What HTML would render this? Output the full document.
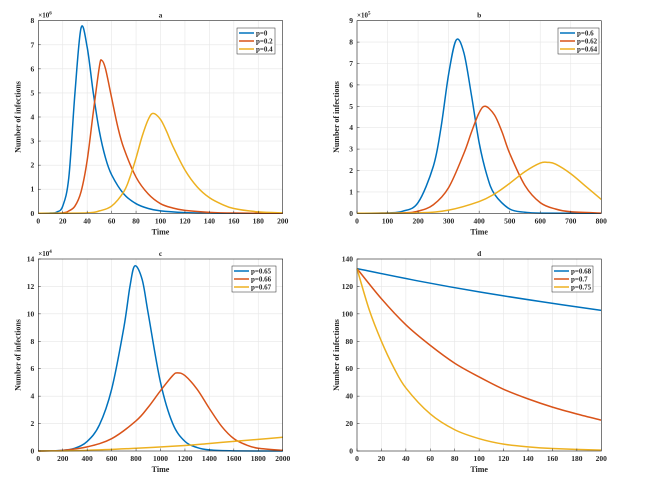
<!DOCTYPE html>
<html><head><meta charset="utf-8"><style>
body{margin:0;background:#fff}
svg text{font-family:"Liberation Serif",serif;font-weight:bold;fill:#262626}
</style></head><body>
<svg id="s" width="645" height="479" xmlns="http://www.w3.org/2000/svg"></svg>
<script>
// ---- panel a data (x1e6) ----
const aBlueX=[0,10,15,20,25,30,35,40,45,50,55,60,70,80,90,100,120,140,160,200];
const aBlueY=[0,0.01,0.05,0.3,1.5,5.0,7.7,6.9,5.0,3.4,2.3,1.6,0.8,0.4,0.2,0.1,0.03,0.01,0,0];
const aRedX=[0,20,25,30,35,40,45,50,52,55,60,65,70,80,90,100,110,120,140,160,200];
const aRedY=[0,0.02,0.1,0.3,0.9,2.2,4.2,6.1,6.35,6.0,4.8,3.6,2.7,1.5,0.8,0.4,0.22,0.12,0.04,0.01,0];
const aYelX=[0,40,50,60,70,75,80,85,90,94,100,105,110,120,130,140,150,160,180,200];
const aYelY=[0,0.02,0.1,0.3,0.9,1.5,2.3,3.2,3.9,4.15,3.9,3.4,2.8,1.8,1.1,0.65,0.38,0.2,0.06,0.02];
// ---- panel b data (x1e5) ----
const bBlueX=[0,100,150,200,250,275,300,325,350,375,400,425,450,500,550,600,800];
const bBlueY=[0,0.02,0.1,0.5,2.2,4,6.5,8.1,7.5,5.5,3.3,1.8,0.9,0.2,0.05,0.01,0];
const bRedX=[0,150,200,250,300,350,375,400,420,450,475,500,550,600,650,700,800];
const bRedY=[0,0.02,0.1,0.4,1.2,2.8,3.8,4.7,5.0,4.6,3.8,2.8,1.3,0.5,0.2,0.07,0.01];
const bYelX=[0,200,300,400,450,500,550,600,625,650,700,750,800];
const bYelY=[0,0.02,0.15,0.55,0.9,1.4,1.95,2.35,2.38,2.3,1.85,1.25,0.65];
// ---- panel c data (x1e4) ----
const cBlueX=[0,200,300,400,500,600,700,750,790,850,900,1000,1100,1200,1300,1400,1600,2000];
const cBlueY=[0,0.05,0.2,0.7,1.9,4.5,9,12,13.5,12.5,10,5,2,0.7,0.25,0.08,0.01,0];
const cRedX=[0,200,400,600,800,900,1000,1100,1140,1200,1300,1400,1500,1600,1700,1800,2000];
const cRedY=[0,0.05,0.3,0.9,2.2,3.2,4.4,5.5,5.7,5.5,4.5,3.1,1.8,0.9,0.45,0.2,0.05];
const cYelX=[0,400,800,1200,1400,1600,1800,2000];
const cYelY=[0,0.05,0.2,0.4,0.55,0.7,0.85,1.0];
// ---- panel d data ----
const dBlueX=[0,50,100,150,200];
const dBlueY=[133,124,116,109,102.5];
const dRedX=[0,20,40,60,80,100,120,140,160,180,200];
const dRedY=[133,111,92,77,64,54,45,38,32,27,22.5];
const dYelX=[0,10,20,30,40,60,80,100,120,140,160,200];
const dYelY=[133,103,80,61,46,27,15.5,9,5,3,1.8,0.6];
// ticks / labels
const aXT=[0,20,40,60,80,100,120,140,160,180,200], aYT=[0,1,2,3,4,5,6,7,8];
const bXT=[0,100,200,300,400,500,600,700,800], bYT=[0,1,2,3,4,5,6,7,8,9];
const cXT=[0,200,400,600,800,1000,1200,1400,1600,1800,2000], cYT=[0,2,4,6,8,10,12,14];
const dXT=[0,20,40,60,80,100,120,140,160,180,200], dYT=[0,20,40,60,80,100,120,140];
const aLeg=["p=0","p=0.2","p=0.4"], bLeg=["p=0.6","p=0.62","p=0.64"];
const cLeg=["p=0.65","p=0.66","p=0.67"], dLeg=["p=0.68","p=0.7","p=0.75"];
const COLORS=["#0072BD","#D95319","#EDB120"];

const S=document.getElementById('s');
function el(t,a,p){const e=document.createElementNS("http://www.w3.org/2000/svg",t);for(const k in a)e.setAttribute(k,a[k]);(p||S).appendChild(e);return e;}
function panel(name,box,xMax,yMax,xT,yT,series,leg,legBox,title,exp){
  const [L,T,R,B]=box;
  const g=el('g',{});
  
  
  const sx=v=>L+(v/xMax)*(R-L), sy=v=>B-(v/yMax)*(B-T);
  el('rect',{x:L,y:T,width:R-L,height:B-T,fill:'#fff'},g);
  xT.forEach(v=>{const l=el('line',{x1:sx(v),x2:sx(v),y1:T,y2:B,stroke:'#e6e6e6','stroke-width':0.6},g);});
  yT.forEach(v=>{const l=el('line',{x1:L,x2:R,y1:sy(v),y2:sy(v),stroke:'#e6e6e6','stroke-width':0.6},g);});
  series.forEach((s,i)=>{
    const pts=s[0].map((x,j)=>[sx(x),sy(s[1][j])]);
    let d='M'+pts[0][0]+','+pts[0][1];
    for(let j=0;j<pts.length-1;j++){
      const p0=pts[j-1]||pts[j],p1=pts[j],p2=pts[j+1],p3=pts[j+2]||p2;
      const c1=[p1[0]+(p2[0]-p0[0])/6,p1[1]+(p2[1]-p0[1])/6],c2=[p2[0]-(p3[0]-p1[0])/6,p2[1]-(p3[1]-p1[1])/6];
      d+=`C${c1[0]},${Math.min(c1[1],B)} ${c2[0]},${Math.min(c2[1],B)} ${p2[0]},${p2[1]}`;
    }
    const p=el('path',{d:d,fill:'none',stroke:COLORS[i],'stroke-width':1.5},g);
    
    
  });
  el('rect',{x:L,y:T,width:R-L,height:B-T,fill:'none',stroke:'#262626','stroke-width':0.6},g);
  xT.forEach(v=>{el('line',{x1:sx(v),x2:sx(v),y1:B,y2:B-2.5,stroke:'#262626','stroke-width':0.5},g);
    const t=el('text',{x:sx(v),y:B+10,'font-size':7.5,'text-anchor':'middle'},g);t.textContent=v;
    });
  yT.forEach(v=>{el('line',{x1:L,x2:L+2.5,y1:sy(v),y2:sy(v),stroke:'#262626','stroke-width':0.5},g);
    const t=el('text',{x:L-4,y:sy(v)+2.5,'font-size':7.5,'text-anchor':'end'},g);t.textContent=v;
    });
  const xt=el('text',{x:(L+R)/2,y:B+21,'font-size':8,'text-anchor':'middle'},g);xt.textContent='Time';
  
  const yt=el('text',{x:0,y:0,'font-size':8,'text-anchor':'middle',transform:`translate(${L-18},${(T+B)/2}) rotate(-90)`},g);yt.textContent='Number of infections';
  
  const tt=el('text',{x:(L+R)/2,y:T-3,'font-size':7.5,'text-anchor':'middle','font-weight':'normal'},g);tt.textContent=title;
  
  if(exp){const e=el('text',{x:L,y:T-3,'font-size':7,'font-weight':'normal'},g);e.innerHTML='×10<tspan dy="-3" font-size="5">'+exp+'</tspan>';
    }
  const [lx,ly,lw,lh]=legBox;
  const lg=el('g',{},g);
  el('rect',{x:lx,y:ly,width:lw,height:lh,fill:'#fff',stroke:'#262626','stroke-width':0.5},lg);
  leg.forEach((n,i)=>{const y=ly+5+i*8;
    el('line',{x1:lx+2,x2:lx+17,y1:y,y2:y,stroke:COLORS[i],'stroke-width':1.5},lg);
    const t=el('text',{x:lx+19,y:y+2.5,'font-size':7},lg);t.textContent=n;
    });
}
panel('a',[38.3,20.7,282.7,213.3],200,8,aXT,aYT,[[aBlueX,aBlueY],[aRedX,aRedY],[aYelX,aYelY]],aLeg,[237,28,38,26],'a','6');
panel('b',[357,20.7,601.3,213.3],800,9,bXT,bYT,[[bBlueX,bBlueY],[bRedX,bRedY],[bYelX,bYelY]],bLeg,[558,28,41,26],'b','5');
panel('c',[38.3,259,282.7,451],2000,14,cXT,cYT,[[cBlueX,cBlueY],[cRedX,cRedY],[cYelX,cYelY]],cLeg,[232,266,44,26],'c','4');
panel('d',[357,259,601.3,451],200,140,dXT,dYT,[[dBlueX,dBlueY],[dRedX,dRedY],[dYelX,dYelY]],dLeg,[552,266,41,26],'d',null);
</script>
</body></html>
